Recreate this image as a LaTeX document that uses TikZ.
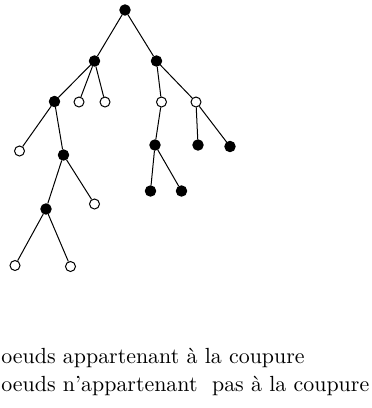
\documentclass[tikz,border=0pt]{standalone}
\begin{document}
\begin{tikzpicture}[x=0.5pt,y=-0.5pt,
  inside/.style={circle,fill=black,draw=black,line width=0.5pt,minimum size=5.2pt,inner sep=0pt},
  outside/.style={circle,fill=white,draw=black,line width=0.5pt,minimum size=5pt,inner sep=0pt},
  edge/.style={line width=0.5pt},
  legend/.style={anchor=base west,inner sep=0pt,font=\fontsize{10.95}{13}\selectfont}]
\useasboundingbox (0,0) rectangle (371,408);
% tree nodes
\node[inside]  (r)   at (125,10) {};
\node[inside]  (a)   at (94.5,61) {};
\node[inside]  (b)   at (156.5,61) {};
\node[inside]  (a1)  at (54.5,101.5) {};
\node[outside] (a2)  at (79,102) {};
\node[outside] (a3)  at (105,102) {};
\node[outside] (b1)  at (161.5,102) {};
\node[outside] (b2)  at (196,102) {};
\node[outside] (a11) at (19.5,151) {};
\node[inside]  (a12) at (63.5,155) {};
\node[inside]  (b11) at (155,145) {};
\node[inside]  (b21) at (198,145) {};
\node[inside]  (b22) at (230,146.5) {};
\node[inside]  (c1)  at (46,209) {};
\node[outside] (c2)  at (94.5,204) {};
\node[inside]  (d1)  at (150.5,191) {};
\node[inside]  (d2)  at (181.5,191) {};
\node[outside] (e1)  at (15,265.5) {};
\node[outside] (e2)  at (70.5,266.5) {};
% edges
\draw[edge] (r) -- (a);
\draw[edge] (r) -- (b);
\draw[edge] (a) -- (a1);
\draw[edge] (a) -- (a2);
\draw[edge] (a) -- (a3);
\draw[edge] (b) -- (b1);
\draw[edge] (b) -- (b2);
\draw[edge] (a1) -- (a11);
\draw[edge] (a1) -- (a12);
\draw[edge] (b1) -- (b11);
\draw[edge] (b2) -- (b21);
\draw[edge] (b2) -- (b22);
\draw[edge] (a12) -- (c1);
\draw[edge] (a12) -- (c2);
\draw[edge] (b11) -- (d1);
\draw[edge] (b11) -- (d2);
\draw[edge] (c1) -- (e1);
\draw[edge] (c1) -- (e2);
% legend
\node[legend] (l1) at (1,363) {oeuds appartenant \`a la coupure};
\node[legend] (l2) at (1,391) {oeuds n'appartenant\ \ pas \`a la coupure};
\end{tikzpicture}
\end{document}
